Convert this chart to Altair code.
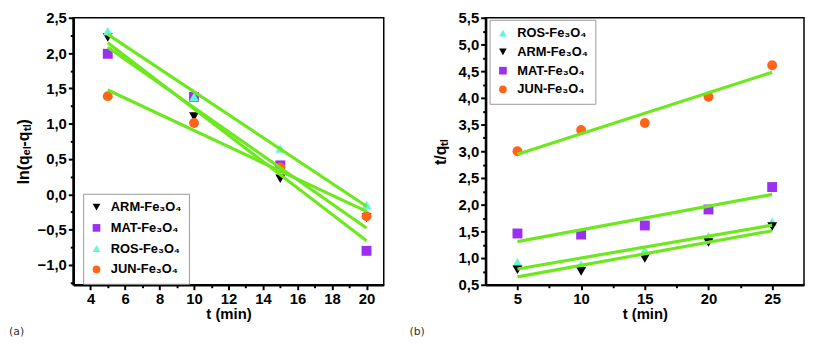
import altair as alt
import pandas as pd

# ---------------- data: panel (a) ----------------
t_a = [5, 10, 15, 20]
arm_a = [2.22, 1.10, 0.22, -0.33]
mat_a = [1.99, 1.38, 0.41, -0.80]
ros_a = [2.31, 1.38, 0.65, -0.15]
jun_a = [1.39, 1.01, 0.38, -0.31]

# ---------------- data: panel (b) ----------------
t_b = [5, 10, 15, 20, 25]
ros_b = [0.92, 0.88, 1.14, 1.41, 1.68]
arm_b = [0.78, 0.75, 0.99, 1.29, 1.59]
mat_b = [1.46, 1.44, 1.61, 1.91, 2.33]
jun_b = [3.00, 3.40, 3.53, 4.02, 4.61]

ARM = "ARM-Fe₃O₄"
MAT = "MAT-Fe₃O₄"
ROS = "ROS-Fe₃O₄"
JUN = "JUN-Fe₃O₄"

order_a = [ARM, MAT, ROS, JUN]
order_b = [ROS, ARM, MAT, JUN]

COL = {ARM: "#000000", MAT: "#9b30f0", ROS: "#5ff7d6", JUN: "#ff6418"}
SHP = {ARM: "triangle-down", MAT: "square", ROS: "triangle-up", JUN: "circle"}
GREEN = "#6ee81e"
FONT = "Liberation Sans"


def long_df(t, series):
    rows = []
    for name, vals in series:
        for ti, v in zip(t, vals):
            rows.append({"t": ti, "v": v, "s": name})
    return pd.DataFrame(rows)


df_a = long_df(t_a, [(ARM, arm_a), (MAT, mat_a), (ROS, ros_a), (JUN, jun_a)])
df_b = long_df(t_b, [(ROS, ros_b), (ARM, arm_b), (MAT, mat_b), (JUN, jun_b)])

Y_FMT = "replace(format(datum.value, '.1f'), '.', ',')"


def panel(df, order, xdom, ydom, xmajor, xminor, ymajor, yminor, ytitle,
          tag, tag_dx, lx, ly, rowpad, w, h, ytitle_pad):
    xs = alt.Scale(domain=xdom, nice=False, zero=False)
    ys = alt.Scale(domain=ydom, nice=False, zero=False)
    legend = alt.Legend(
        title=None, orient="none", legendX=lx, legendY=ly,
        strokeColor="#9a9a9a", fillColor="white", padding=7,
        rowPadding=rowpad, labelFont=FONT, labelFontSize=13,
        labelFontWeight="bold", labelColor="black", symbolSize=60,
        symbolStrokeWidth=0, labelOffset=8, cornerRadius=0,
    )
    xaxis = alt.Axis(values=xmajor, title="t (min)", format="d",
                     labelFont=FONT, labelFontSize=15, labelFontWeight="bold",
                     labelColor="black", titleFont=FONT, titleFontSize=15,
                     titleFontWeight="bold", titleColor="black",
                     titlePadding=0, tickSize=5, tickWidth=2,
                     tickColor="black", domainColor="black", domainWidth=2.5,
                     grid=False, labelPadding=2, orient="bottom")
    yaxis = alt.Axis(values=ymajor, title=ytitle, labelExpr=Y_FMT,
                     labelFont=FONT, labelFontSize=15, labelFontWeight="bold",
                     labelColor="black", titleFont=FONT, titleFontSize=16,
                     titleFontWeight="bold", titleColor="black",
                     titlePadding=ytitle_pad, tickSize=5, tickWidth=2,
                     tickColor="black", domainColor="black", domainWidth=2.5,
                     grid=False, labelPadding=2, orient="left")
    base = alt.Chart(df)
    minor = base.mark_point(opacity=0).encode(
        x=alt.X("t:Q", scale=xs, axis=alt.Axis(
            values=xminor, labels=False, title=None, tickSize=3, tickWidth=2,
            tickColor="black", domain=False, grid=False, orient="bottom")),
        y=alt.Y("v:Q", scale=ys, axis=alt.Axis(
            values=yminor, labels=False, title=None, tickSize=3, tickWidth=2,
            tickColor="black", domain=False, grid=False, orient="left")),
    )
    pts = base.mark_point(filled=True, size=100, opacity=1, strokeWidth=0).encode(
        x=alt.X("t:Q", scale=xs, axis=xaxis),
        y=alt.Y("v:Q", scale=ys, axis=yaxis),
        color=alt.Color("s:N", scale=alt.Scale(domain=order, range=[COL[k] for k in order]),
                        legend=legend, sort=order),
        shape=alt.Shape("s:N", scale=alt.Scale(domain=order, range=[SHP[k] for k in order]),
                        legend=legend, sort=order),
    )
    fits = base.transform_regression("t", "v", groupby=["s"]).mark_line(
        color=GREEN, strokeWidth=3.2
    ).encode(
        x=alt.X("t:Q", scale=xs, axis=None),
        y=alt.Y("v:Q", scale=ys, axis=None),
        detail="s:N",
    )
    return alt.layer(minor, pts, fits).resolve_axis(
        x="independent", y="independent"
    ).properties(
        width=w, height=h,
        title=alt.TitleParams(text=tag, orient="bottom", anchor="start",
                              frame="group", dx=tag_dx, offset=5,
                              fontSize=11, fontWeight="normal",
                              font="DejaVu Sans", color="#333333"),
    )


H = 270
left = panel(
    df_a, order_a, [3, 21], [-1.28, 2.5],
    [4, 6, 8, 10, 12, 14, 16, 18, 20],
    [5, 7, 9, 11, 13, 15, 17, 19],
    [-1.0, -0.5, 0.0, 0.5, 1.0, 1.5, 2.0, 2.5],
    [-1.25, -0.75, -0.25, 0.25, 0.75, 1.25, 1.75, 2.25],
    "ln(qₑₗ-qₜₗ)", "(a)", -65, 10, 178, 7, 314, H, 6,
)
right = panel(
    df_b, order_b, [2.5, 27.5], [0.5, 5.5],
    [5, 10, 15, 20, 25],
    [7.5, 12.5, 17.5, 22.5],
    [0.5, 1.0, 1.5, 2.0, 2.5, 3.0, 3.5, 4.0, 4.5, 5.0, 5.5],
    [0.75, 1.25, 1.75, 2.25, 2.75, 3.25, 3.75, 4.25, 4.75, 5.25],
    "t/qₜₗ", "(b)", -77, 4, 2, 5, 322, H, 10,
)

chart = alt.hconcat(left, right, spacing=24).resolve_scale(
    color="independent", shape="independent"
).properties(
    padding=0,
    background="white",
).configure_view(
    stroke="black", strokeWidth=1.5
)

chart.save("out.html", embed_options={"renderer": "svg", "actions": False})
